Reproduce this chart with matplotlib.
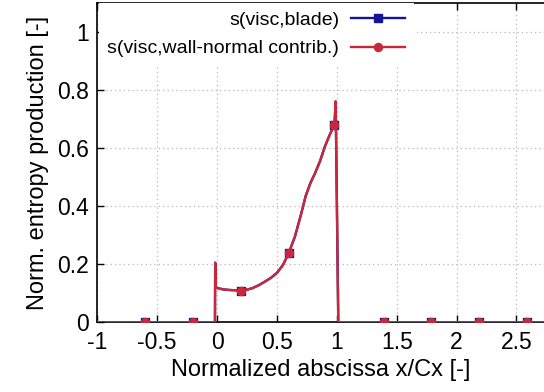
import numpy as np
import matplotlib
matplotlib.use("Agg")
import matplotlib.pyplot as plt

# curve (normalized entropy production vs x/Cx)
x_pos = [-1.0, -0.6, -0.2, -0.03, -0.018, -0.016, -0.012, 0.01, 0.05, 0.1, 0.2,
         0.25, 0.3, 0.35, 0.4, 0.45, 0.5, 0.55, 0.6, 0.65, 0.7, 0.74, 0.78, 0.82,
         0.86, 0.9, 0.94, 0.98, 0.985, 0.99, 1.012, 1.02, 1.39, 1.79, 2.19, 2.59, 2.75]
s_blade = [0.0, 0.0, 0.0, 0.0, 0.0, 0.205, 0.12, 0.117, 0.113, 0.111, 0.109,
           0.112, 0.118, 0.128, 0.14, 0.153, 0.17, 0.197, 0.24, 0.295, 0.37, 0.435, 0.48, 0.515,
           0.555, 0.605, 0.645, 0.68, 0.72, 0.76, 0.0, 0.0, 0.0, 0.0, 0.0, 0.0, 0.0]
# wall-normal contribution overlaps the blade total within reading precision
s_wall = list(s_blade)
x_marks = [-0.6, -0.2, 0.2, 0.6, 0.98, 1.39, 1.79, 2.19, 2.59]

xticks = [-1, -0.5, 0, 0.5, 1, 1.5, 2, 2.5]
yticks = [0, 0.2, 0.4, 0.6, 0.8, 1]

plt.rcParams['font.family'] = ['Liberation Sans', 'DejaVu Sans']
plt.rcParams['axes.unicode_minus'] = False

fig = plt.figure(figsize=(5.44, 3.92), dpi=100)
ax = fig.add_axes([0.179, 0.178, 0.821, 0.815])

mark_idx = [i for i, v in enumerate(x_pos) if v in x_marks]

ax.plot(x_pos, s_blade, color='#14149a', lw=1.7, marker='s', ms=5.2,
        markevery=mark_idx, label='s(visc,blade)', zorder=3)
ax.plot(x_pos, s_wall, color='#c8283a', lw=1.7, marker='o', ms=5.8,
        markevery=mark_idx, label='s(visc,wall-normal contrib.)', zorder=4)

ax.set_xlim(-1, 2.73)
ax.set_ylim(0, 1.1)
ax.set_xticks(xticks)
ax.set_xticklabels(['%g' % t for t in xticks])
ax.set_yticks(yticks)
ax.set_yticklabels(['%g' % t for t in yticks])
ax.tick_params(direction='in', length=5, width=1, labelsize=16.5, top=True)
ax.tick_params(axis='x', pad=6)
ax.tick_params(axis='y', pad=6)
ax.grid(True, color='#b8b8b8', linestyle=(0, (1, 2.5)), lw=0.9)
ax.set_axisbelow(True)
for sp in ['top', 'left', 'bottom']:
    ax.spines[sp].set_linewidth(1.2)
ax.spines['right'].set_visible(False)

ax.set_xlabel('Normalized abscissa x/Cx [-]', fontsize=17, labelpad=4)
ax.set_ylabel('Norm. entropy production [-]', fontsize=17, labelpad=6)

leg = ax.legend(loc='upper right', bbox_to_anchor=(0.709, 1.0), markerfirst=False,
                fontsize=14, frameon=True, fancybox=False, framealpha=1,
                edgecolor='none', handlelength=2.8, labelspacing=0.55,
                borderpad=0.45, borderaxespad=0.0, handletextpad=0.6)
leg.set_zorder(5)

fig.savefig('out.png', dpi=100)
